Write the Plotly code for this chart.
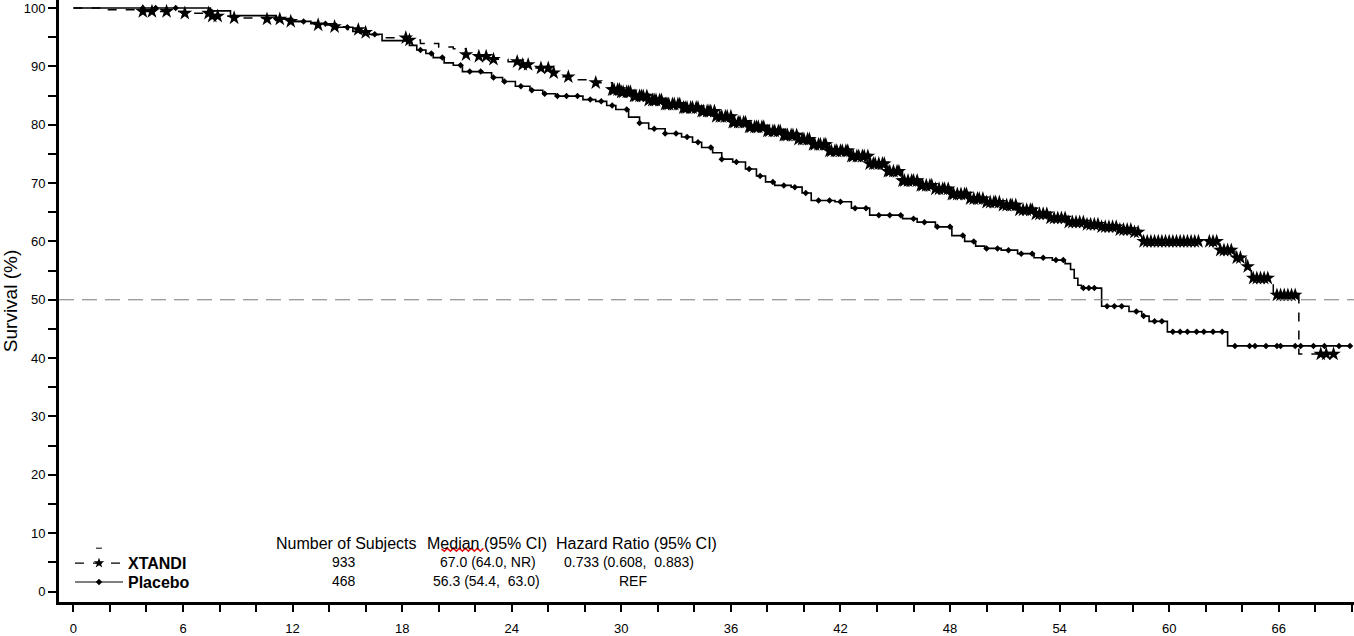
import bisect
import plotly.graph_objects as go

# Kaplan-Meier step points (months, survival %)
xtandi_time = [0, 1.6, 3.8, 6.1, 7.5, 8.8, 10.5, 11.9, 12.6, 13.4, 14.2, 15.0, 15.7, 16.2,
               17.0, 18.3, 19.0, 20.0, 20.8, 21.5, 22.2, 23.0, 23.8, 24.6, 25.1, 26.2, 26.8,
               27.3, 28.6, 29.5, 30.0, 30.6, 31.5, 32.4, 33.3, 34.3, 35.2, 36.1, 37.0, 37.9,
               38.8, 39.7, 40.5, 41.4, 42.5, 43.6, 44.5, 45.4, 46.3, 47.2, 48.1, 49.0, 50.0,
               50.8, 51.7, 52.6, 53.5, 54.5, 55.4, 56.3, 57.2, 58.1, 58.5, 62.8, 63.6, 64.2,
               64.5, 65.7, 67.1, 69.2]
xtandi_surv = [100, 99.7, 99.4, 99.1, 98.6, 98.3, 98.1, 97.7, 97.5, 97.1, 96.8, 96.3, 95.8, 95.4,
               94.9, 94.5, 93.9, 93.3, 93.0, 92.0, 91.7, 91.2, 90.8, 90.3, 89.7, 88.9, 88.2,
               87.7, 87.2, 86.0, 85.6, 84.9, 84.2, 83.5, 82.9, 82.3, 81.4, 80.4, 79.6, 78.9,
               78.2, 77.5, 76.6, 75.5, 74.6, 73.3, 72.0, 70.4, 69.6, 69.0, 68.1, 67.3, 66.7,
               66.2, 65.4, 64.7, 64.0, 63.3, 62.9, 62.5, 62.0, 61.6, 60.0, 58.5, 57.2, 55.7,
               53.7, 50.8, 40.7, 40.7]

placebo_time = [0, 7.5, 8.6, 11.1, 12.0, 13.0, 14.4, 15.3, 16.2, 16.9, 18.4, 18.8, 19.3, 19.7,
                20.3, 20.8, 21.3, 22.4, 22.9, 23.5, 24.2, 25.0, 25.7, 26.4, 27.9, 28.6, 29.2,
                29.7, 30.4, 31.0, 31.5, 32.4, 33.3, 33.9, 34.4, 35.0, 35.5, 36.1, 36.8, 37.4,
                37.9, 38.4, 39.3, 39.9, 40.4, 41.7, 42.6, 43.6, 45.4, 46.2, 47.2, 48.1, 48.8,
                49.4, 49.9, 50.8, 51.7, 52.6, 53.6, 54.3, 54.6, 54.8, 55.0, 55.2, 56.3, 57.8,
                58.5, 58.9, 59.9, 63.2, 69.9]
placebo_surv = [100, 99.5, 98.7, 98.2, 97.7, 97.3, 96.7, 96.0, 95.5, 94.4, 93.6, 92.8, 92.2, 91.5,
                90.6, 90.2, 89.1, 88.9, 88.1, 87.4, 86.6, 85.9, 85.3, 84.9, 84.3, 84.0, 83.3,
                82.6, 81.3, 80.3, 79.3, 78.5, 77.9, 77.0, 76.1, 75.2, 74.1, 73.6, 72.4, 71.2,
                70.2, 69.6, 69.3, 68.3, 67.0, 66.8, 65.7, 64.5, 63.9, 63.3, 62.5, 61.0, 60.0,
                59.2, 58.8, 58.5, 57.9, 57.2, 56.8, 56.2, 55.2, 53.7, 52.5, 52.0, 48.9, 48.0,
                47.2, 46.3, 44.5, 42.1, 42.1]

# censoring times (months)
xtandi_censor = [3.8, 4.3, 5.1, 6.1, 7.4, 7.6, 7.9, 8.8, 10.6, 11.3, 11.9, 13.4, 14.3, 15.6, 16.0,
                 18.2, 18.4, 21.5, 22.2, 22.6, 23.0, 24.3, 24.6, 24.9, 25.6, 26.0, 26.3, 27.1, 28.6,
                 29.5, 29.6, 29.8, 29.9, 30.0, 30.1, 30.3, 30.4, 30.5, 30.7, 30.8, 31.0, 31.1, 31.2,
                 31.4, 31.5, 31.7, 31.8, 31.9, 32.1, 32.2, 32.4, 32.5, 32.6, 32.8, 32.9, 33.1, 33.2,
                 33.4, 33.5, 33.6, 33.8, 33.9, 34.1, 34.2, 34.4, 34.5, 34.7, 34.8, 34.9, 35.1, 35.2,
                 35.4, 35.5, 35.7, 35.8, 36.0, 36.1, 36.2, 36.4, 36.5, 36.7, 36.8, 37.0, 37.1, 37.3,
                 37.4, 37.5, 37.7, 37.8, 38.0, 38.1, 38.3, 38.4, 38.6, 38.7, 38.9, 39.0, 39.1, 39.3,
                 39.4, 39.6, 39.7, 39.9, 40.0, 40.2, 40.3, 40.5, 40.6, 40.8, 40.9, 41.1, 41.2, 41.4,
                 41.5, 41.7, 41.8, 42.0, 42.1, 42.3, 42.4, 42.6, 42.7, 42.9, 43.0, 43.2, 43.3, 43.5,
                 43.6, 43.8, 43.9, 44.1, 44.3, 44.4, 44.6, 44.7, 44.9, 45.1, 45.2, 45.4, 45.5, 45.7,
                 45.9, 46.0, 46.2, 46.4, 46.5, 46.7, 46.9, 47.0, 47.2, 47.4, 47.6, 47.7, 47.9, 48.1,
                 48.2, 48.4, 48.6, 48.8, 48.9, 49.1, 49.3, 49.5, 49.6, 49.8, 50.0, 50.2, 50.4, 50.5,
                 50.7, 50.9, 51.1, 51.3, 51.4, 51.6, 51.8, 52.0, 52.2, 52.4, 52.5, 52.7, 52.9, 53.1,
                 53.3, 53.5, 53.7, 53.9, 54.1, 54.3, 54.5, 54.7, 54.9, 55.1, 55.3, 55.5, 55.7, 55.9,
                 56.1, 56.3, 56.5, 56.7, 56.9, 57.1, 57.3, 57.5, 57.7, 57.9, 58.1, 58.3, 58.6, 58.8,
                 59.0, 59.2, 59.4, 59.6, 59.8, 60.0, 60.2, 60.4, 60.6, 60.8, 61.0, 61.2, 61.4, 61.6,
                 62.2, 62.4, 62.6, 62.8, 63.0, 63.2, 63.4, 63.7, 63.9, 64.3, 64.6, 64.8, 65.0, 65.2,
                 65.4, 65.9, 66.1, 66.3, 66.5, 66.7, 66.9, 68.3, 68.6, 69.0]
placebo_censor = [3.8, 4.5, 5.6, 7.5, 11.1, 12.6, 13.8, 14.4, 15.0, 15.7, 16.5, 18.3, 19.0, 19.6,
                  20.2, 21.2, 21.7, 22.3, 23.0, 23.6, 24.5, 25.1, 25.8, 26.5, 27.0, 27.6, 28.3,
                  28.9, 29.5, 30.3, 31.0, 31.8, 32.4, 33.0, 33.6, 34.2, 34.9, 35.5, 36.3, 37.0,
                  37.6, 38.3, 38.9, 39.5, 40.1, 40.8, 41.4, 42.0, 42.8, 43.4, 44.1, 44.7, 45.3,
                  46.0, 46.6, 47.3, 48.0, 48.7, 49.3, 50.0, 50.6, 51.2, 51.9, 52.5, 53.1, 53.8,
                  54.2, 55.3, 55.6, 55.9, 56.6, 57.0, 57.4, 58.2, 58.6, 59.2, 59.6, 60.2, 60.6,
                  61.0, 61.5, 61.9, 62.4, 62.9, 63.6, 64.4, 64.7, 65.3, 65.9, 66.1, 66.9, 67.2,
                  67.9, 68.5, 69.3, 69.9]

arms = ["XTANDI", "Placebo"]
subjects = ["933", "468"]
medians = ["67.0 (64.0, NR)", "56.3 (54.4,  63.0)"]
hazard_ratios = ["0.733 (0.608,  0.883)", "REF"]
table_headers = ["Number of Subjects", "Median (95% CI)", "Hazard Ratio (95% CI)"]

x_tickvals = list(range(0, 71, 2))
x_ticktext = [str(v) if v % 6 == 0 else "" for v in x_tickvals]
y_tickvals = list(range(0, 101, 5))
y_ticktext = [str(v) if v % 10 == 0 else "" for v in y_tickvals]


def surv_at(times, surv, t):
    i = bisect.bisect_right(times, t) - 1
    return surv[max(i, 0)]


FONT = "Liberation Sans, Arial, sans-serif"
L, T, W, H = 57, 0, 1297, 604


def px_x(p):
    return (p - L) / W


def px_y(p):
    return (T + H - p) / H


fig = go.Figure()

fig.add_trace(go.Scatter(x=xtandi_time, y=xtandi_surv, mode="lines", line_shape="hv",
                         line=dict(color="black", width=1.5, dash="dash"), showlegend=False))
fig.add_trace(go.Scatter(x=xtandi_censor, y=[surv_at(xtandi_time, xtandi_surv, t) for t in xtandi_censor],
                         mode="markers", marker=dict(symbol="star", size=11, color="black"),
                         showlegend=False))
fig.add_trace(go.Scatter(x=placebo_time, y=placebo_surv, mode="lines", line_shape="hv",
                         line=dict(color="black", width=1.6), showlegend=False))
fig.add_trace(go.Scatter(x=placebo_censor, y=[surv_at(placebo_time, placebo_surv, t) for t in placebo_censor],
                         mode="markers", marker=dict(symbol="diamond", size=5, color="black"),
                         showlegend=False))

# legend entries, one legend box per row so the row spacing can be matched
fig.add_trace(go.Scatter(x=[None], y=[None], mode="lines+markers", name="<b>%s</b>" % arms[0],
                         line=dict(color="black", width=1.2, dash="dash"),
                         marker=dict(symbol="star", size=8, color="black"), legend="legend"))
fig.add_trace(go.Scatter(x=[None], y=[None], mode="lines+markers", name="<b>%s</b>" % arms[1],
                         line=dict(color="black", width=1.2),
                         marker=dict(symbol="diamond", size=5, color="black"), legend="legend2"))

fig.add_hline(y=50, line=dict(color="#777777", width=1, dash="15px,8px"))

# summary table under the curves
header_x = [272, 424, 553]
for hx, txt in zip(header_x, table_headers):
    fig.add_annotation(x=px_x(hx), y=px_y(545), xref="paper", yref="paper", text=txt,
                       showarrow=False, xanchor="left", yanchor="middle",
                       font=dict(family=FONT, size=16, color="black"))
row_y = [564, 583]
median_x = [487, 485]
hr_x = [628, 632]
for i in range(2):
    fig.add_annotation(x=px_x(342), y=px_y(row_y[i]), xref="paper", yref="paper", text=subjects[i],
                       showarrow=False, xanchor="center", yanchor="middle",
                       font=dict(family=FONT, size=14, color="black"))
    fig.add_annotation(x=px_x(median_x[i]), y=px_y(row_y[i]), xref="paper", yref="paper", text=medians[i],
                       showarrow=False, xanchor="center", yanchor="middle",
                       font=dict(family=FONT, size=14, color="black"))
    fig.add_annotation(x=px_x(hr_x[i]), y=px_y(row_y[i]), xref="paper", yref="paper", text=hazard_ratios[i],
                       showarrow=False, xanchor="center", yanchor="middle",
                       font=dict(family=FONT, size=14, color="black"))

legend_style = dict(xanchor="left", yanchor="top", bgcolor="rgba(0,0,0,0)",
                    font=dict(family=FONT, size=16, color="black"), itemwidth=48)

fig.update_layout(
    width=1354, height=636,
    margin=dict(l=L, r=0, t=T, b=636 - H),
    paper_bgcolor="white", plot_bgcolor="white",
    font=dict(family=FONT, size=13, color="black"),
    legend=dict(x=px_x(68), y=px_y(548), **legend_style),
    legend2=dict(x=px_x(68), y=px_y(567), **legend_style),
    xaxis=dict(range=[-0.79, 70.12], tickvals=x_tickvals, ticktext=x_ticktext,
               ticks="outside", ticklen=7, tickwidth=2, tickcolor="black", ticklabelstandoff=5,
               showline=True, linewidth=3, linecolor="black", showgrid=False, zeroline=False,
               tickfont=dict(family=FONT, size=13)),
    yaxis=dict(range=[-1.79, 101.37], tickvals=y_tickvals, ticktext=y_ticktext,
               ticks="outside", ticklen=8, tickwidth=2, tickcolor="black", ticklabeloverflow="allow",
               showline=True, linewidth=3, linecolor="black", showgrid=False, zeroline=False,
               tickfont=dict(family=FONT, size=13),
               title=dict(text="Survival (%)", font=dict(family=FONT, size=19), standoff=10)),
)

# red spell-check squiggle under "edian" and the stray dash above the legend
pts = [(440, 551)] + [(443 + 3 * k, 553 if k % 2 == 0 else 550) for k in range(14)]
fig.add_shape(type="path", xref="paper", yref="paper",
              path="M" + " L".join("%.5f,%.5f" % (px_x(a), px_y(b)) for a, b in pts),
              line=dict(color="#e01010", width=1.5))
fig.add_shape(type="line", xref="paper", yref="paper",
              x0=px_x(94), x1=px_x(100), y0=px_y(550), y1=px_y(550),
              line=dict(color="black", width=1))

fig.write_html("out.html", config={"displayModeBar": False},
               post_script="document.body.style.margin='0';")
